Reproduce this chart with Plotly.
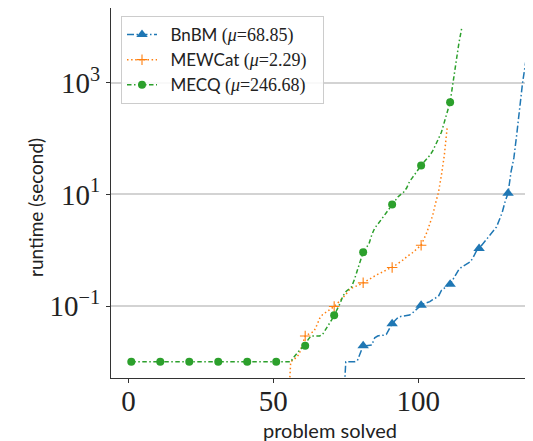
import plotly.graph_objects as go

# ---------------- data ----------------
series_names = ["BnBM", "MEWCat", "MECQ"]
series_means = ["68.85", "2.29", "246.68"]

# sorted runtimes (seconds); 0.001 = below the visible axis range
bnbm_runtime = ([0.001] * 74 +
                [0.01, 0.01, 0.01, 0.01, 0.0105, 0.015] +
                [0.0195, 0.0195, 0.02, 0.02, 0.027, 0.029, 0.03, 0.03, 0.031, 0.04] +
                [0.048, 0.055, 0.062, 0.065, 0.067, 0.068, 0.069, 0.075, 0.083, 0.095] +
                [0.103, 0.11, 0.115, 0.12, 0.13, 0.14, 0.15, 0.19, 0.21, 0.23] +
                [0.245, 0.3, 0.38, 0.45, 0.5, 0.54, 0.58, 0.62, 0.75, 0.95] +
                [1.07, 1.25, 1.45, 1.7, 2.0, 2.3, 2.6, 3.5, 4.8, 7.5] +
                [10.5, 25, 45, 120, 350, 1000, 2200, 4700])

mewcat_runtime = ([0.001] * 55 + [0.01] +
                  [0.011, 0.012, 0.014, 0.02] +
                  [0.029, 0.031, 0.033, 0.035, 0.045, 0.06, 0.07, 0.076, 0.083, 0.09] +
                  [0.098, 0.11, 0.125, 0.14, 0.16, 0.19, 0.21, 0.22, 0.23, 0.245] +
                  [0.26, 0.28, 0.3, 0.33, 0.35, 0.37, 0.39, 0.42, 0.44, 0.47] +
                  [0.49, 0.53, 0.57, 0.62, 0.68, 0.76, 0.82, 0.9, 1.0, 1.1] +
                  [1.23, 1.6, 2.1, 3.0, 4.2, 7, 11, 22, 50, 160])

mecq_runtime = ([0.01] * 56 +
                [0.012, 0.014, 0.016, 0.018] +
                [0.0195, 0.025, 0.029, 0.029, 0.029, 0.029, 0.031, 0.037, 0.045, 0.055] +
                [0.068, 0.085, 0.11, 0.15, 0.18, 0.2, 0.22, 0.3, 0.45, 0.65] +
                [0.92, 1.1, 1.3, 1.9, 2.5, 2.9, 3.4, 4.0, 4.7, 5.5] +
                [6.6, 7.5, 9.0, 10, 11, 13, 17, 20, 24, 28] +
                [33, 38, 43, 50, 60, 75, 100, 130, 200, 300] +
                [450, 1000, 2400, 5000, 9500])

x_ticks = [0, 50, 100]
y_ticks = [0.1, 10, 1000]
y_tick_labels = ["10<sup>\u22121</sup>", "10<sup>1</sup>", "10<sup>3</sup>"]

# ---------------- styling ----------------
colors = ["#1f77b4", "#ff7f0e", "#2ca02c"]
dashes = ["7px,2.5px,1.5px,2.5px", "1.5px,2.6px", "4.5px,2.5px,1.5px,2.5px"]
symbols = ["triangle-up", "cross-thin-open", "circle"]
msizes = [10, 7.5, 8]
mark_every = 10
SERIF = "Liberation Serif"
SANS = "Lato"

# page body has an 8px default margin: figure is sized/offset to compensate
FIG_W, FIG_H = 525, 433
ML, MT, MB, MR = 103, 0, 63, 0
PLOT_W = FIG_W - ML - MR
PLOT_H = FIG_H - MT - MB

fig = go.Figure()
for name, mean, ys, col, dash, sym, ms in zip(series_names, series_means,
                                               [bnbm_runtime, mewcat_runtime, mecq_runtime],
                                               colors, dashes, symbols, msizes):
    xs = list(range(1, len(ys) + 1))
    mcolors = [col if i % mark_every == 0 else "rgba(0,0,0,0)" for i in range(len(ys))]
    label = (f"\u2002{name} <span style=\"font-family:'{SERIF}';font-size:18px\">"
             f"(<i>\u03bc</i>={mean})</span>\u2002\u2009")
    fig.add_trace(go.Scatter(
        x=xs, y=ys, name=label, mode="lines+markers",
        line=dict(color=col, width=1.5, dash=dash),
        marker=dict(symbol=sym, size=ms, color=mcolors,
                    line=dict(width=1.1 if "open" in sym else 0)),
        cliponaxis=True,
    ))

fig.update_layout(
    width=FIG_W, height=FIG_H,
    margin=dict(l=ML, r=MR, t=MT, b=MB, pad=0),
    paper_bgcolor="white", plot_bgcolor="white",
    showlegend=True,
    legend=dict(x=(121 - 111) / PLOT_W, y=1 - (16 - 8) / PLOT_H,
                xanchor="left", yanchor="top",
                bgcolor="rgba(255,255,255,0.85)", bordercolor="#cccccc", borderwidth=1,
                font=dict(family=SANS, size=17, color="#222"),
                itemwidth=30, tracegroupgap=0),
    font=dict(family=SANS, color="#222"),
)

fig.update_xaxes(range=[-6, 139.6], tickvals=x_ticks, ticks="outside", ticklen=4,
                 tickcolor="#333", tickwidth=1, ticklabelstandoff=-7,
                 tickfont=dict(family=SERIF, size=29, color="#222"),
                 showline=True, linecolor="#333", linewidth=1, mirror=True,
                 showgrid=False, zeroline=False)
fig.update_yaxes(type="log", range=[-2.29, 4.34], tickvals=y_ticks, ticktext=y_tick_labels,
                 ticks="outside", ticklen=4, tickcolor="#333", tickwidth=1,
                 tickfont=dict(family=SERIF, size=29, color="#222"),
                 showline=True, linecolor="#333", linewidth=1, mirror=False,
                 showgrid=True, gridcolor="#d3d3d3", gridwidth=1.5, zeroline=False)

fig.add_annotation(text="problem solved", xref="paper", yref="paper",
                   x=(330 - 111) / PLOT_W, y=0, yshift=-(430 - 378), xanchor="center",
                   yanchor="middle", showarrow=False,
                   font=dict(family=SANS, size=20, color="#222"))
fig.add_annotation(text="runtime (second)", xref="paper", yref="paper",
                   x=0, xshift=-(111 - 35), y=(378 - 208) / PLOT_H, xanchor="center",
                   yanchor="middle", textangle=-90, showarrow=False,
                   font=dict(family=SANS, size=19, color="#222"))

fig.write_html("out.html")
